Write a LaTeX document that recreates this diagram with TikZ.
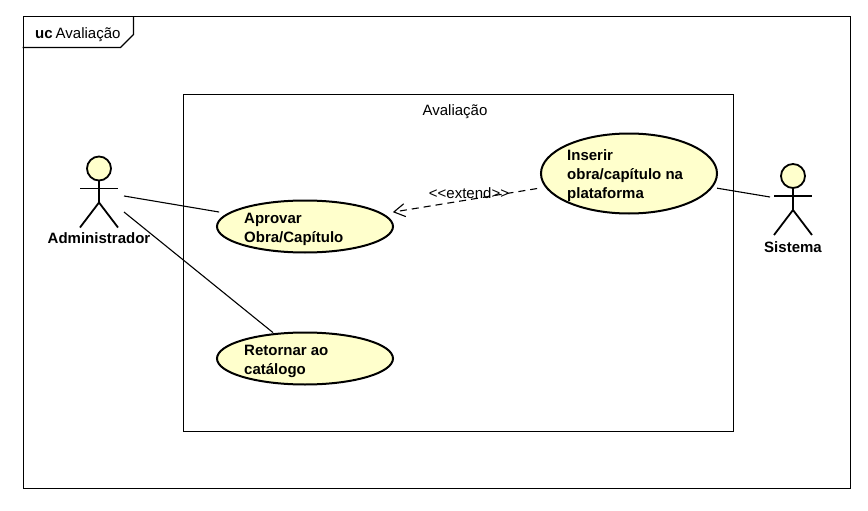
\documentclass[tikz,border=0pt]{standalone}
\usepackage{fontspec}
\setmainfont{Liberation Sans}
\usetikzlibrary{arrows.meta,shapes.geometric}
\definecolor{ucfill}{HTML}{FFFFCC}
\def\stickman(#1,#2){
	\draw[actorline,fill=ucfill] (#1, #2) circle (12);
	\draw[actorline] (#1, #2+12) -- (#1, #2+34);
	\draw[actorline] (#1-19, #2+20) -- (#1+19, #2+20);
	\draw[actorline] (#1-19, #2+59) -- (#1, #2+34) -- (#1+19, #2+59);
}
\tikzset{
	actorline/.style={line width=1.8pt},
	thinline/.style={line width=1.1pt},
	usecase/.style={draw, ellipse, fill=ucfill, line width=2pt, inner sep=0pt, outer sep=0pt},
	uctext/.style={anchor=west, align=left, inner sep=0pt, font=\fontsize{15}{19}\selectfont\bfseries},
	plaintext/.style={inner sep=0pt, font=\fontsize{15}{16}\selectfont}
}

\begin{document}
\begin{tikzpicture}[x=1pt, y=-1pt]
		%%%%% START %%%%%
		\useasboundingbox (0, 0) rectangle (868, 511);
		\fill[white] (0, 0) rectangle (868, 511);
		
		\draw[thinline] (23.5, 16.5) rectangle (850.5, 488.5);
		\draw[thinline] (22.5, 47.5) -- (120.5, 47.5) -- (133.5, 34.5) -- (133.5, 16.5);
		\node[plaintext, anchor=west] (frametag) at (35, 35) {\textbf{uc}\hspace{3pt}Avaliação};
		
		\draw[thinline] (183.5, 94.5) rectangle (733.5, 431.5);
		\node[plaintext] (boxtitle) at (455, 112) {Avaliação};
		
		\node[usecase, minimum width=176, minimum height=52] (aprovar) at (305, 226.5) {};
		\node[usecase, minimum width=176, minimum height=52] (retornar) at (305, 358.5) {};
		\node[usecase, minimum width=176, minimum height=80] (inserir) at (629, 173.5) {};
		\node[uctext] (aprovartxt) at (244, 229) {Aprovar\\Obra/Capítulo};
		\node[uctext] (retornartxt) at (244, 361) {Retornar ao\\catálogo};
		\node[uctext] (inserirtxt) at (567, 176) {Inserir\\obra/capítulo na\\plataforma};
		
		\stickman(99, 168.5);
		\node[uctext, anchor=center] (admin) at (99, 238.5) {Administrador};
		\stickman(793, 176);
		\node[uctext, anchor=center] (sistema) at (793, 247) {Sistema};
		
		\coordinate (adminup) at (124, 196);
		\coordinate (admindown) at (124, 212);
		\coordinate (sistemaleft) at (770, 197);
		
		\draw[thinline, shorten >=9.6] (adminup) -- (aprovar);
		\draw[thinline, shorten >=2.3] (admindown) -- (retornar);
		\draw[thinline, shorten >=5.5] (sistemaleft) -- (inserir);
		\draw[thinline, dashed, dash pattern=on 7pt off 5pt, shorten <=9.2, shorten >=11, -{Straight Barb[length=11pt, width=13pt]}] (inserir) -- (aprovar);
		\node[plaintext] (extendtxt) at (469, 193) {<{}<extend>{}>};
		%%%%% END %%%%%
	\end{tikzpicture}
\end{document}
